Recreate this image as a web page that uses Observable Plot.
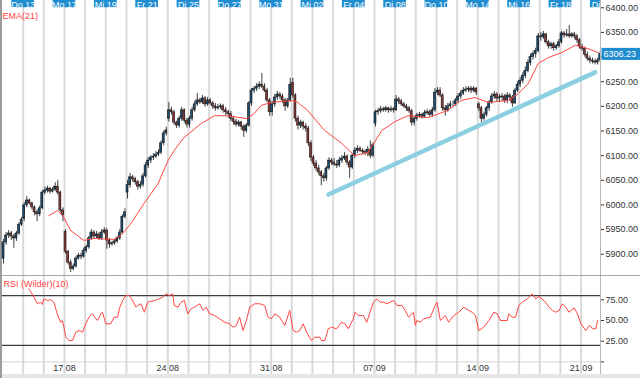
<!DOCTYPE html>
<html><head><meta charset="utf-8">
<script src="https://cdn.jsdelivr.net/npm/d3@7"></script>
<script src="https://cdn.jsdelivr.net/npm/@observablehq/plot@0.6"></script>
<style>
html,body{margin:0;padding:0;background:#fff;overflow:hidden;width:640px;height:378px;}
#wrap{width:638px;height:378px;border-left:2px solid #9c9c9c;position:relative;}
#rsi{border-top:1px solid #a8a8a8;}
#band{height:4px;background:#e6e6e6;}
svg{display:block;}
</style></head><body><div id="wrap"><div id="main"></div><div id="rsi"></div><div id="band"></div></div>
<script>
// ---- data ----
const days = ["Mi 12","Do 13","Fr 14","Mo 17","Di 18","Mi 19","Do 20","Fr 21","Mo 24","Di 25","Mi 26","Do 27","Fr 28","Mo 31","Di 01","Mi 02","Do 03","Fr 04","Mo 07","Di 08","Mi 09","Do 10","Fr 11","Mo 14","Di 15","Mi 16","Do 17","Fr 18","Mo 21","Di 22"];
const dates = ["12.08","13.08","14.08","17.08","18.08","19.08","20.08","21.08","24.08","25.08","26.08","27.08","28.08","31.08","01.09","02.09","03.09","04.09","07.09","08.09","09.09","10.09","11.09","14.09","15.09","16.09","17.09","18.09","21.09","22.09"];
const barsPerDay = 8;

const open = [
5891,5924,5938,5942,5936,5932,5942,5960,
5972,5999,6009,6003,5995,5985,5981,5993,
6025,6029,6033,6027,6031,6037,6025,5989,
5945,5905,5883,5870,5875,5891,5897,5895,
5907,5914,5932,5944,5936,5940,5932,5944,
5948,5928,5920,5922,5926,5932,5944,5976,
6025,6040,6056,6052,6046,6037,6041,6058,
6080,6090,6096,6098,6102,6106,6125,6145,
6175,6192,6188,6167,6161,6175,6192,6171,
6163,6175,6192,6204,6212,6208,6216,6204,
6212,6206,6200,6196,6198,6200,6192,6188,
6184,6175,6169,6163,6167,6159,6150,6161,
6206,6232,6236,6240,6244,6240,6232,6212,
6188,6204,6218,6224,6220,6212,6200,6212,
6248,6222,6175,6161,6167,6159,6155,6125,
6096,6084,6074,6066,6058,6054,6074,6090,
6086,6082,6080,6090,6094,6098,6086,6076,
6100,6110,6114,6110,6108,6106,6112,6100,
6165,6188,6190,6194,6192,6196,6192,6194,
6192,6214,6210,6204,6200,6196,6190,6167,
6175,6181,6183,6179,6186,6188,6183,6192,
6228,6232,6222,6196,6192,6200,6204,6204,
6212,6220,6226,6232,6234,6236,6232,6236,
6204,6196,6175,6183,6196,6208,6220,6224,
6216,6218,6220,6212,6222,6218,6206,6232,
6244,6252,6262,6272,6288,6300,6306,6312,
6342,6340,6346,6330,6322,6326,6318,6322,
6330,6348,6344,6346,6342,6346,6342,6334,
6321,6317,6305,6297,6293,6291,6289,6293];
const high = [
5930,5944,5948,5946,5940,5946,5964,5975,
6005,6017,6012,6006,5998,5990,5998,6030,
6036,6038,6036,6035,6045,6050,6028,5994,
5950,5908,5888,5880,5895,5902,5902,5912,
5918,5936,5950,5948,5946,5944,5950,5954,
5952,5932,5926,5930,5936,5950,5980,5992,
6050,6064,6060,6056,6050,6048,6064,6086,
6096,6100,6104,6108,6112,6130,6150,6158,
6208,6198,6192,6170,6180,6198,6195,6176,
6180,6198,6210,6226,6216,6222,6220,6218,
6216,6210,6206,6204,6205,6204,6198,6192,
6190,6180,6174,6172,6170,6162,6165,6210,
6236,6240,6246,6250,6267,6246,6236,6216,
6210,6224,6230,6228,6225,6216,6216,6257,
6257,6226,6180,6172,6170,6165,6160,6130,
6100,6090,6080,6070,6064,6078,6096,6094,
6094,6090,6096,6100,6106,6102,6090,6104,
6116,6120,6118,6114,6112,6118,6130,6126,
6192,6196,6200,6198,6200,6198,6200,6198,
6222,6218,6214,6208,6204,6200,6194,6180,
6186,6188,6186,6192,6194,6192,6198,6236,
6238,6238,6226,6202,6206,6210,6210,6216,
6226,6232,6238,6240,6240,6240,6240,6238,
6208,6200,6188,6200,6212,6226,6230,6228,
6224,6226,6224,6228,6226,6222,6236,6250,
6258,6268,6280,6294,6306,6312,6318,6348,
6350,6352,6348,6334,6330,6330,6326,6336,
6352,6352,6356,6364,6350,6350,6346,6338,
6326,6320,6310,6302,6298,6296,6298,6312];
const low = [
5880,5918,5932,5928,5912,5926,5938,5956,
5966,5994,6000,5990,5978,5966,5976,5990,
6020,6024,6022,6024,6027,6020,5984,5966,
5900,5878,5863,5866,5872,5888,5889,5892,
5902,5910,5928,5930,5932,5928,5928,5940,
5910,5912,5916,5918,5922,5928,5940,5972,
6012,6034,6046,6040,6030,6032,6036,6054,
6074,6084,6090,6094,6098,6102,6120,6140,
6168,6182,6162,6155,6156,6170,6166,6156,
6156,6170,6188,6200,6204,6204,6198,6200,
6202,6194,6190,6192,6194,6186,6180,6176,
6170,6162,6158,6158,6152,6137,6146,6158,
6200,6226,6230,6234,6236,6228,6208,6180,
6180,6198,6212,6214,6206,6190,6196,6208,
6216,6168,6152,6155,6152,6148,6118,6088,
6078,6068,6060,6039,6046,6048,6070,6080,
6078,6074,6076,6084,6090,6080,6054,6072,
6094,6104,6106,6102,6100,6098,6094,6096,
6158,6182,6186,6188,6188,6186,6188,6186,
6190,6204,6200,6196,6190,6186,6160,6160,
6170,6176,6174,6176,6182,6178,6178,6188,
6222,6218,6190,6180,6188,6196,6198,6200,
6206,6214,6222,6228,6228,6226,6228,6222,
6190,6167,6170,6178,6190,6204,6214,6210,
6208,6210,6206,6206,6210,6198,6204,6228,
6238,6246,6256,6268,6282,6294,6298,6308,
6332,6336,6326,6316,6316,6312,6314,6318,
6326,6338,6340,6338,6338,6336,6328,6316,
6312,6300,6292,6286,6286,6284,6284,6288];
const close = [
5924,5938,5942,5936,5932,5942,5960,5970,
5999,6009,6003,5995,5985,5981,5993,6025,
6029,6033,6027,6031,6037,6025,5989,5979,
5905,5883,5870,5875,5891,5897,5895,5907,
5914,5932,5944,5936,5940,5932,5944,5948,
5928,5920,5922,5926,5932,5944,5976,5985,
6040,6056,6052,6046,6037,6041,6058,6080,
6090,6096,6098,6102,6106,6125,6145,6151,
6192,6188,6167,6161,6175,6192,6171,6163,
6175,6192,6204,6212,6208,6216,6204,6212,
6206,6200,6196,6198,6200,6192,6188,6184,
6175,6169,6163,6167,6159,6150,6161,6206,
6232,6236,6240,6244,6240,6232,6212,6188,
6204,6218,6224,6220,6212,6200,6212,6244,
6222,6175,6161,6167,6159,6155,6125,6096,
6084,6074,6066,6058,6054,6074,6090,6086,
6082,6080,6090,6094,6098,6086,6076,6100,
6110,6114,6110,6108,6106,6112,6100,6121,
6188,6190,6194,6192,6196,6192,6194,6192,
6214,6210,6204,6200,6196,6190,6167,6175,
6181,6183,6179,6186,6188,6183,6192,6228,
6232,6222,6196,6192,6200,6204,6204,6212,
6220,6226,6232,6234,6236,6232,6236,6228,
6196,6175,6183,6196,6208,6220,6224,6216,
6218,6220,6212,6222,6218,6206,6232,6244,
6252,6262,6272,6288,6300,6306,6312,6342,
6340,6346,6330,6322,6326,6318,6322,6330,
6348,6344,6346,6342,6346,6342,6334,6321,
6317,6305,6297,6293,6291,6289,6293,6306.23];

// EMA(21): bar position, value
const emaBar = [17.9,21.4,23.7,26.4,31.5,35.3,39,43.1,45.8,49.7,54.8,60.2,64.1,66.4,70.3,76.9,82.0,86,89.7,94.8,97.5,100.2,104,108.0,111.9,114,118.1,124.7,131.3,136.3,141.4,143.3,146.8,151.9,156.9,164.7,172.5,177.5,182.9,188.0,195.8,199.7,203.5,207.4,211.3,216.4,221.8,225.7,230.7];
const emaVal = [5978,5989,5975,5948,5928,5932,5931,5930,5938,5962,6003,6043,6090,6110,6137,6165,6181,6181,6179,6175,6186,6202,6208,6210,6212,6209,6192,6151,6125,6100,6106,6121,6151,6169,6181,6177,6192,6212,6218,6208,6212,6226,6246,6287,6299,6309,6324,6319,6309];

// RSI (Wilder)(10)
const rsiBar = [10.2,12.2,13.5,14.8,15.4,16.0,17.4,18.6,19.9,21.2,22.5,23.2,23.8,24.5,25.8,27.1,28.4,29.6,31.0,32.2,33.5,34.8,36.1,36.8,38.1,38.7,40.0,41.9,43.2,44.6,45.2,46.5,47.8,49.1,50.4,51.7,52.3,53.6,54.9,56.2,58.8,60.7,62.0,63.3,64.6,65.9,66.5,67.9,69.1,70.4,71.7,73.0,74.3,76.3,77.6,78.9,80.1,82.1,84.0,86.0,87.9,89.2,90.5,91.8,93.1,94.4,95.7,97.6,99.6,101.5,102.8,104.1,105.4,107.3,109.3,111.2,112.5,113.8,115.1,116.4,117.7,119.6,120.9,122.9,123.5,124.8,126.1,127.4,129.3,131.3,132.6,133.9,135.8,136.5,137.8,139.7,141.0,142.3,143.6,144.9,146.2,147.5,148.8,150.1,151.4,152.7,154.6,155.9,157.2,157.8,159.1,159.8,160.4,161.7,163.0,165.6,167.5,168.2,169.5,171.4,172.7,174.7,176.6,178.6,180.5,181.8,183.1,184.4,186.3,188.3,190.2,191.5,192.8,195.4,196.0,197.3,198.6,199.9,201.2,203.2,205.1,206.4,207.7,209.6,211.6,212.9,214.1,215.5,216.7,218.0,219.3,221.3,222.6,223.9,225.8,227.2,228.5,229.7,230.4];
const rsiVal = [88.3,78.2,70.2,72.1,69.3,76.2,74.2,75,72.1,58.1,47.9,50,41.9,29.8,25.8,25.8,35.9,37.9,35.9,46,54,58.1,52.1,50,58.1,60,46,46,54,54,64.1,74.2,80.2,80.2,74.2,66.1,68.1,70.2,60,72.1,74.2,76.2,78.1,82.2,80.2,82.2,68.1,66.1,72.1,74.2,58.1,64.1,66.1,70.2,62.1,66.1,58.1,56,52.1,47.9,46,41.9,44,54,37.9,50,66.1,70.2,70.2,68.1,54,52.1,58.1,54,44,62.1,37.9,35.9,37.9,46,35.9,25.8,29.8,29.8,25.8,25.8,40,41.9,40,47.9,46,40,52.1,60,56,56,47.9,60,72.1,76.2,72.1,72.1,70.2,72.1,74.2,68.1,68.1,62.1,54,56,60,44,50,47.9,52.1,54,68.1,72.1,50,56,47.9,56,60,66.1,62.1,60,56,37.9,41.9,50,60,58.1,50,50,58.1,54,54,68.1,72.1,76.2,82.2,76.2,79,74.2,66.1,62.1,60,62.1,70.2,66.1,60,65.3,58.1,46,37.9,44,40,40,50];

// hand-drawn trendline
const trendBar = [126.2, 229.4];
const trendVal = [6021, 6269];

const priceTicks = [5900,5950,6000,6050,6100,6150,6200,6250,6300,6350,6400];
const rsiTicks = [0,25,50,75];
const rsiBands = [20,80];
const lastPrice = close[close.length - 1];

// ---- build ----
const N = close.length;
const bars = close.map((c, i) => ({i, o: open[i], h: high[i], l: low[i], c}));
const ema = emaBar.map((b, k) => ({b, v: emaVal[k]}));
const rsi = rsiBar.map((b, k) => ({b, v: rsiVal[k]}));
const trend = trendBar.map((b, k) => ({b, v: trendVal[k]}));
const xDomain = [0, N - 0.5];
const dayStarts = days.map((s, d) => ({d, x: d * barsPerDay, label: s, date: dates[d]}));
const grid = dayStarts.filter(t => t.x > 0 && t.x < xDomain[1]);
const topLabels = dayStarts.filter(t => t.d % 2 === 1);
const mondays = dayStarts.filter(t => t.label.startsWith("Mo"));
const fmt = d3.format(".2f");
const UP = "#174f78", DOWN = "#8d3a36", RED = "#ff4545";
const font = {fontFamily: "'Liberation Sans', Arial, sans-serif", fontSize: "9px", color: "#333", background: "transparent", overflow: "visible"};
// the label of the last day is cut by the price axis: only its visible part is shown
const shownLabel = d => d.x + 4.4 > xDomain[1] ? d.label.split(" ")[0] : d.label;

const main = Plot.plot({
  width: 638, height: 275,
  marginTop: 0, marginBottom: 0, marginLeft: 0, marginRight: 40,
  style: font,
  x: {domain: xDomain, axis: null},
  y: {domain: [5856.8, 6414.8], axis: "right", ticks: priceTicks, tickFormat: fmt, tickSize: 3, tickPadding: 2, label: null},
  marks: [
    Plot.ruleX(grid, {x: "x", stroke: "#dadada", strokeWidth: 2}),
    Plot.ruleX(bars, {x: d => d.i + 0.4, y1: "l", y2: "h", stroke: "#2a2a2a", strokeWidth: 0.9}),
    Plot.rect(bars, {x1: d => d.i + 0.02, x2: d => d.i + 0.78, y1: "o", y2: "c", fill: d => d.c >= d.o ? UP : DOWN, stroke: "#141414", strokeWidth: 0.6}),
    Plot.line(ema, {x: "b", y: "v", stroke: RED, strokeWidth: 1}),
    Plot.line(trend, {x: "b", y: "v", stroke: "#8ccfe0", strokeWidth: 4.5}),
    Plot.ruleX([xDomain[1]], {stroke: "#b8b8b8", strokeWidth: 1}),
    Plot.rect(topLabels, {x1: d => d.x - 4.4, x2: d => d.x + 4.4, fill: "#1f8dd0", insetBottom: 267.7, clip: true}),
    Plot.text(topLabels, {x: d => d.x + 4.4 > xDomain[1] ? d.x - 2.2 : d.x, text: shownLabel, frameAnchor: "top", lineAnchor: "bottom", dy: 7, fill: "white", fontSize: 9, clip: true}),
    Plot.text(["EMA(21)"], {frameAnchor: "top-left", dx: 0, dy: 12.5, fill: RED, fontSize: 9}),
    Plot.text([lastPrice], {y: d => d, text: d => fmt(d), frameAnchor: "right", textAnchor: "start", dx: 3, fill: "white", fontSize: 9})
  ]
});
document.getElementById("main").appendChild(main);

const lower = Plot.plot({
  width: 638, height: 98,
  marginTop: 2.6, marginBottom: 12.6, marginLeft: 0, marginRight: 40,
  style: font,
  x: {domain: xDomain, ticks: mondays.map(t => t.x), tickFormat: x => (mondays.find(t => t.x === x) || {}).date, tickSize: 0, tickPadding: 3, label: null},
  y: {domain: [0, 100], axis: "right", ticks: rsiTicks, tickFormat: d => d === 0 ? "" : fmt(d), tickSize: 3, tickPadding: 2, label: null},
  marks: [
    Plot.ruleX(grid, {x: "x", stroke: "#dadada", strokeWidth: 2, insetTop: -2.6, insetBottom: -12.6}),
    Plot.ruleY([0], {stroke: "#d4d4d4"}),
    Plot.ruleY(rsiBands, {stroke: "#3c3c3c", strokeWidth: 1.2}),
    Plot.line(rsi, {x: "b", y: "v", stroke: RED, strokeWidth: 1}),
    Plot.ruleX([xDomain[1]], {stroke: "#b8b8b8", strokeWidth: 1, insetTop: -2.6, insetBottom: -12.6}),
    Plot.text(["RSI (Wilder)(10)"], {frameAnchor: "top-left", dx: 1, dy: 2, fill: RED, fontSize: 9})
  ]
});
document.getElementById("rsi").appendChild(lower);

// blue background box behind the last price label
main.querySelectorAll("text").forEach(t => {
  if (t.textContent === fmt(lastPrice)) {
    const bb = t.getBBox();
    const r = document.createElementNS("http://www.w3.org/2000/svg", "rect");
    r.setAttribute("x", bb.x - 2); r.setAttribute("y", bb.y - 1);
    r.setAttribute("width", 44); r.setAttribute("height", bb.height + 2);
    r.setAttribute("fill", "#1f8dd0");
    const tr = t.getAttribute("transform");
    if (tr) r.setAttribute("transform", tr);
    t.parentNode.insertBefore(r, t);
  }
});
</script>
</body></html>
